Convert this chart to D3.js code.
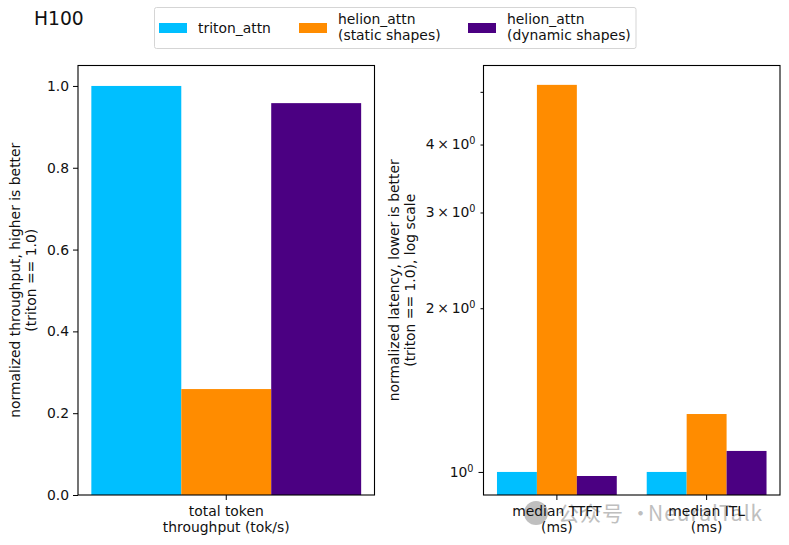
<!DOCTYPE html>
<html>
<head>
<meta charset="utf-8">
<script src="https://cdn.jsdelivr.net/npm/d3@7"></script>
<style>
  html, body { margin: 0; padding: 0; background: #fff; }
  svg { display: block; }
  text { font-family: "DejaVu Sans", sans-serif; fill: #111; }
</style>
</head>
<body>
<div class="visualizations"></div>
<script>
var seriesKeys = ["triton", "static", "dynamic"];
var seriesLabels = [["triton_attn"], ["helion_attn", "(static shapes)"], ["helion_attn", "(dynamic shapes)"]];
var throughputCategories = [["total token", "throughput (tok/s)"]];
var throughputTriton = [1.0];
var throughputStatic = [0.259];
var throughputDynamic = [0.958];
var latencyCategories = [["median TTFT", "(ms)"], ["median ITL", "(ms)"]];
var latencyTriton = [1.0, 1.0];
var latencyStatic = [5.15, 1.278];
var latencyDynamic = [0.983, 1.093];
var throughputTicks = [0, 0.2, 0.4, 0.6, 0.8, 1.0];
var latencyMajorTicks = [1];
var latencyMinorTicks = [2, 3, 4, 5];
var latencyLabelled = [2, 3, 4];

var width = 789, height = 545, fontSize = 13.9;
var plotTop = 65.5, plotBottom = 495;
var color = d3.scaleOrdinal().domain(seriesKeys).range(["#00bfff", "#ff8c00", "#4b0082"]);

var svg = d3.select(".visualizations").append("svg")
  .attr("width", width).attr("height", height);

function multiline(sel, lines, x, y, lh) {
  sel.selectAll("tspan").data(lines).join("tspan")
    .attr("x", x).attr("y", function(d, i) { return y + i * lh; })
    .text(function(d) { return d; });
}

function drawBars(g, cats, series, x0, y, baseY) {
  var x1 = d3.scaleBand().domain(seriesKeys).range([0, x0.bandwidth()]);
  cats.forEach(function(c, i) {
    g.selectAll(null).data(series).join("rect")
      .attr("x", function(d, s) { return x0(i) + x1(seriesKeys[s]); })
      .attr("width", x1.bandwidth())
      .attr("y", function(d) { return y(d[i]); })
      .attr("height", function(d) { return baseY - y(d[i]); })
      .attr("fill", function(d, s) { return color(seriesKeys[s]); });
  });
}

function drawXAxis(g, cats, x0) {
  var axis = g.append("g").attr("transform", "translate(0," + plotBottom + ")")
    .call(d3.axisBottom(x0).tickSize(5).tickSizeOuter(0).tickFormat(""));
  axis.select(".domain").remove();
  axis.selectAll(".tick line").attr("stroke", "#000");
  axis.selectAll(".tick text").remove();
  cats.forEach(function(c, i) {
    g.append("text").attr("text-anchor", "middle").attr("font-size", fontSize)
      .call(multiline, c, x0(i) + x0.bandwidth() / 2, plotBottom + 21, 15.5);
  });
}

function frame(g, x0, x1) {
  g.append("rect").attr("x", x0).attr("y", plotTop)
    .attr("width", x1 - x0).attr("height", plotBottom - plotTop)
    .attr("fill", "none").attr("stroke", "#000").attr("stroke-width", 1.1);
}

function yLabel(lines, x) {
  svg.append("text").attr("text-anchor", "middle").attr("font-size", fontSize)
    .attr("transform", "translate(" + x + "," + (plotTop + plotBottom) / 2 + ") rotate(-90)")
    .call(multiline, lines, 0, 0, 16);
}

// watermark goes first, the labels print over it
var mark = svg.append("g").attr("opacity", 0.75)
  .style("font-family", '"Noto Sans CJK SC", "Noto Sans", sans-serif');
mark.append("circle").attr("cx", 536).attr("cy", 513).attr("r", 12).attr("fill", "#aaa");
var markText = mark.append("text").attr("y", 521).attr("font-size", 21).attr("letter-spacing", 1)
  .style("font-family", "inherit").style("fill", "#aaa");
markText.append("tspan").attr("x", 558).text("\u516c\u4f17\u53f7");
markText.append("tspan").attr("x", 630).text("\u00b7");
markText.append("tspan").attr("x", 648).text("NeuralTalk");

// left panel
var left = svg.append("g");
// a one-band scale ignores the outer padding, the inner one sets the side gaps
var xLeft = d3.scaleBand().domain(d3.range(throughputCategories.length))
  .range([78, 374.5]).paddingInner(0.09);
var yLeft = d3.scaleLinear().domain([0, 1.05]).range([plotBottom, plotTop]);
drawBars(left, throughputCategories, [throughputTriton, throughputStatic, throughputDynamic], xLeft, yLeft, plotBottom);
drawXAxis(left, throughputCategories, xLeft);
var leftAxis = left.append("g").attr("transform", "translate(78,0)")
  .call(d3.axisLeft(yLeft).tickValues(throughputTicks).tickSize(5).tickSizeOuter(0).tickPadding(4).tickFormat(d3.format(".1f")));
leftAxis.select(".domain").remove();
leftAxis.selectAll("text").attr("font-size", fontSize).attr("font-family", "DejaVu Sans");
leftAxis.selectAll("line").attr("stroke", "#000");
frame(left, 78, 374.5);
yLabel(["normalized throughput, higher is better", "(triton == 1.0)"], 20);

// right panel, log scale
var right = svg.append("g");
var xRight = d3.scaleBand().domain(d3.range(latencyCategories.length))
  .range([483.5, 780]).paddingInner(0.2).paddingOuter(0.09);
var yRight = d3.scaleLog().domain([0.907, 5.59]).range([plotBottom, plotTop]);
drawBars(right, latencyCategories, [latencyTriton, latencyStatic, latencyDynamic], xRight, yRight, plotBottom);
drawXAxis(right, latencyCategories, xRight);

function sciLabel(sel) {
  sel.each(function(v) {
    var t = d3.select(this).text("").attr("font-size", fontSize).attr("font-family", "DejaVu Sans");
    t.append("tspan").text(v === 1 ? "10" : v + "\u2009\u00d7\u200910");
    t.append("tspan").attr("dy", -5).attr("font-size", 9.7).text("0");
  });
}

var majorAxis = right.append("g").attr("transform", "translate(483.5,0)")
  .call(d3.axisLeft(yRight).tickValues(latencyMajorTicks).tickSize(5).tickSizeOuter(0).tickPadding(5));
majorAxis.select(".domain").remove();
majorAxis.selectAll("line").attr("stroke", "#000");
majorAxis.selectAll("text").call(sciLabel);

var minorAxis = right.append("g").attr("transform", "translate(483.5,0)")
  .call(d3.axisLeft(yRight).tickValues(latencyMinorTicks).tickSize(3).tickSizeOuter(0).tickPadding(5));
minorAxis.select(".domain").remove();
minorAxis.selectAll("line").attr("stroke", "#000");
minorAxis.selectAll("text").filter(function(d) { return latencyLabelled.indexOf(d) < 0; }).remove();
minorAxis.selectAll("text").call(sciLabel);

frame(right, 483.5, 780);
yLabel(["normalized latency, lower is better", "(triton == 1.0), log scale"], 399);

// title
svg.append("text").attr("x", 34).attr("y", 25).attr("font-size", 18.7).text("H100");

// legend
svg.append("rect").attr("x", 154.5).attr("y", 7.5).attr("width", 481.5).attr("height", 41)
  .attr("rx", 2).attr("fill", "#fff").attr("stroke", "#d5d5d5");
var legendX = d3.scaleOrdinal().domain(seriesKeys).range([159, 299, 468]);
var legend = svg.selectAll(".legend-item").data(seriesKeys).join("g")
  .attr("class", "legend-item")
  .attr("transform", function(d) { return "translate(" + legendX(d) + ",0)"; });
legend.append("rect").attr("y", 23).attr("width", 28).attr("height", 10)
  .attr("fill", function(d) { return color(d); });
legend.append("text").attr("font-size", fontSize).each(function(d, i) {
  var lines = seriesLabels[i];
  d3.select(this).call(multiline, lines, 39, lines.length > 1 ? 24 : 33, 16);
});
</script>
</body>
</html>
